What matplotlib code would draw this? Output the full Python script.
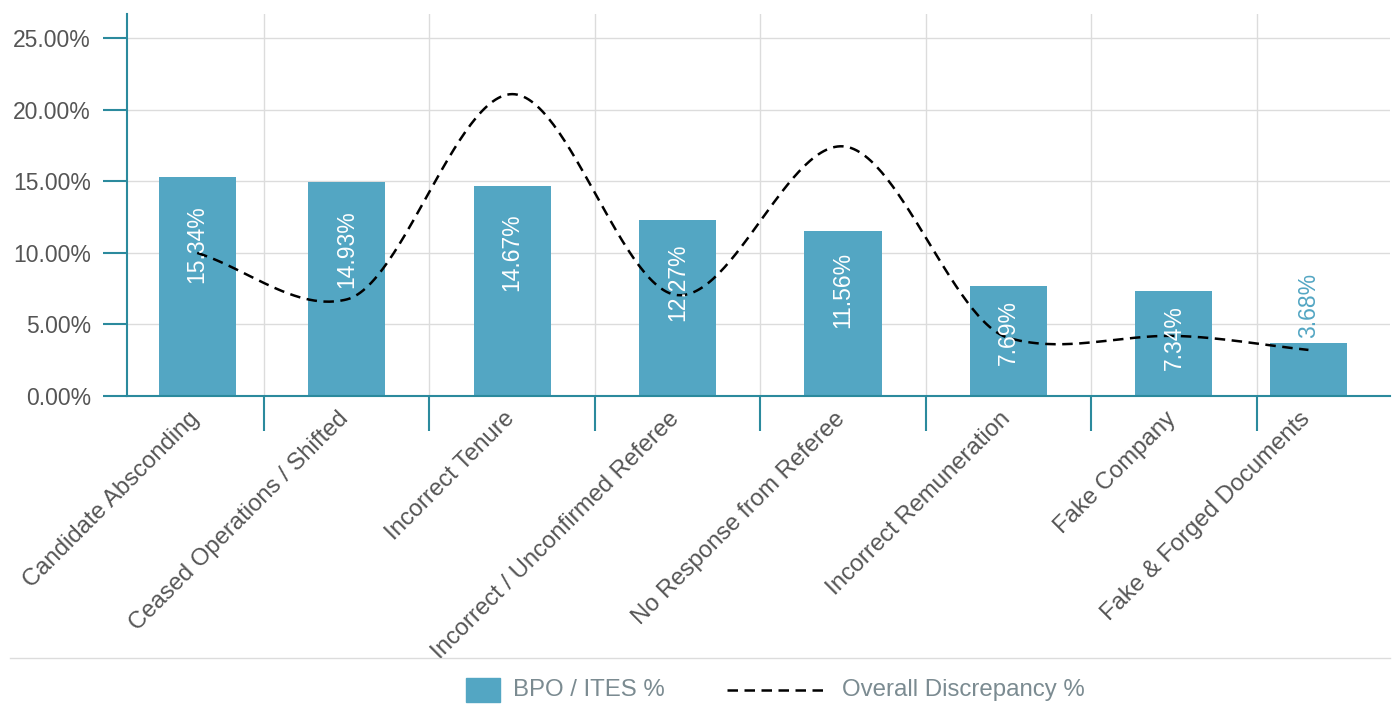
import numpy as np
import matplotlib
matplotlib.use("Agg")
import matplotlib.pyplot as plt
from matplotlib.patches import Rectangle
from matplotlib.lines import Line2D
from matplotlib.transforms import ScaledTranslation

# ---- data -------------------------------------------------------------
categories = [
    "Candidate Absconding",
    "Ceased Operations / Shifted",
    "Incorrect Tenure",
    "Incorrect / Unconfirmed Referee",
    "No Response from Referee",
    "Incorrect Remuneration",
    "Fake Company",
    "Fake & Forged Documents",
]
bpo_ites = [15.34, 14.93, 14.67, 12.27, 11.56, 7.69, 7.34, 3.68]
overall = [10.0, 6.75, 21.1, 7.05, 17.45, 4.06, 4.2, 3.22]
y_ticks = [0, 5, 10, 15, 20, 25]

# ---- style ------------------------------------------------------------
BAR = "#53a6c3"
AXIS = "#2b8a9d"
GRID = "#dcdcdc"
TXT = "#555555"
LEG_TXT = "#7b8b91"
plt.rcParams["font.family"] = ["Liberation Sans", "DejaVu Sans"]

W, H = 1392, 713
fig = plt.figure(figsize=(W / 100, H / 100), dpi=100)
ax = fig.add_axes([127 / W, 1 - 396 / H, (1390 - 127) / W, (396 - 14) / H])

n = len(categories)
xmin, xmax = -0.328, (n - 1.5) + 0.806
# bars sit in the middle of the visible part of each category band
xpos = np.arange(n, dtype=float)
xpos[0] = (xmin + 0.5) / 2 + 0.01
xpos[-1] = (n - 1.5 + xmax) / 2 - 0.09

ax.bar(xpos, bpo_ites, width=0.466, color=BAR, zorder=2)


def cardinal(xs, ys, tension=0.5, steps=60):
    xs = np.asarray(xs, float)
    ys = np.asarray(ys, float)
    m = np.empty_like(ys)
    m[1:-1] = tension * (ys[2:] - ys[:-2]) / (xs[2:] - xs[:-2])
    m[0] = (ys[1] - ys[0]) / (xs[1] - xs[0])
    m[-1] = (ys[-1] - ys[-2]) / (xs[-1] - xs[-2])
    px, py = [], []
    for i in range(len(xs) - 1):
        h = xs[i + 1] - xs[i]
        t = np.linspace(0, 1, steps, endpoint=(i == len(xs) - 2))
        h00 = 2 * t**3 - 3 * t**2 + 1
        h10 = t**3 - 2 * t**2 + t
        h01 = -2 * t**3 + 3 * t**2
        h11 = t**3 - t**2
        px.append(xs[i] + t * h)
        py.append(h00 * ys[i] + h10 * h * m[i] + h01 * ys[i + 1] + h11 * h * m[i + 1])
    return np.concatenate(px), np.concatenate(py)


sx, sy = cardinal(xpos, overall)
ax.plot(sx, sy, color="black", lw=1.8, dashes=(4.2, 2.6), zorder=4)

# value labels
for i, (x, v) in enumerate(zip(xpos, bpo_ites)):
    label = f"{v:.2f}%"
    if v < 5:
        ax.annotate(label, (x, v), xytext=(0, 4), textcoords="offset points",
                    rotation=90, ha="center", va="bottom", color=BAR,
                    fontsize=16.5, zorder=5)
    else:
        ax.text(x, v * 0.87, label, rotation=90, ha="center", va="top",
                color="white", fontsize=16.5, zorder=5)

# axes
ax.set_xlim(xmin, xmax)
ax.set_ylim(0, 26.7)
ax.set_yticks(y_ticks)
ax.set_yticklabels([f"{t:.2f}%" for t in y_ticks])
ax.set_xticks(xpos)
ax.set_xticklabels(categories, rotation=45, ha="right", rotation_mode="anchor")
ax.set_xticks(np.arange(0.5, n - 1, 1.0), minor=True)
ax.set_xlim(xmin, xmax)

ax.tick_params(axis="y", length=17, width=1.5, color=AXIS, labelsize=16.5,
               labelcolor=TXT, pad=9)
ax.tick_params(axis="x", which="major", length=0, labelsize=17.2,
               labelcolor=TXT, pad=8.5)
ax.tick_params(axis="x", which="minor", length=25, width=1.5, color=AXIS)

shift = ScaledTranslation(-9 / 100, 0, fig.dpi_scale_trans)
for lab in ax.get_xticklabels():
    lab.set_transform(lab.get_transform() + shift)

ax.grid(axis="y", color=GRID, lw=1, zorder=0)
ax.grid(axis="x", which="minor", color=GRID, lw=1, zorder=0)
ax.set_axisbelow(True)

for s in ("top", "right"):
    ax.spines[s].set_visible(False)
for s in ("left", "bottom"):
    ax.spines[s].set_color(AXIS)
    ax.spines[s].set_linewidth(1.5)
    ax.spines[s].set_zorder(6)

# legend area
fig.add_artist(Line2D([10 / W, 1390 / W], [1 - 658 / H] * 2, color=GRID, lw=1))
fig.add_artist(Rectangle((466 / W, 1 - 702 / H), 34 / W, 24 / H,
                         color=BAR, transform=fig.transFigure))
fig.text(513 / W, 1 - 690 / H, "BPO / ITES %", color=LEG_TXT, fontsize=17.3,
         va="center", ha="left")
fig.add_artist(Line2D([727 / W, 825 / W], [1 - 690 / H] * 2, color="black",
                      lw=1.8, dashes=(4.2, 2.6)))
fig.text(842 / W, 1 - 690 / H, "Overall Discrepancy %", color=LEG_TXT,
         fontsize=17.3, va="center", ha="left")

fig.savefig("out.png", dpi=100)
